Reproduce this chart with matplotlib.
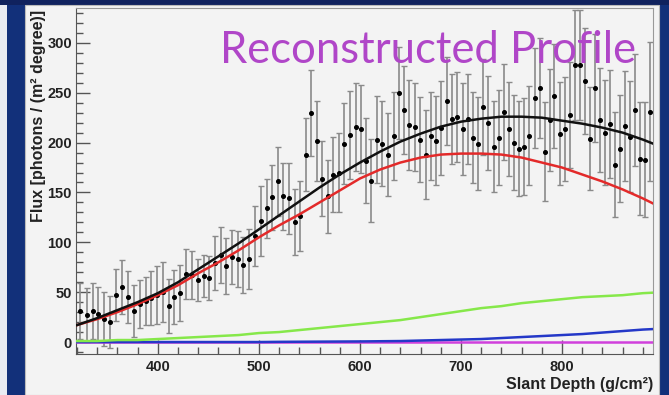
import matplotlib.pyplot as plt
from matplotlib.patches import Rectangle
from matplotlib.ticker import MultipleLocator
import numpy as np

# measured profile: slant depth bins, flux and uncertainty
depth = [323.4, 329.6, 335.6, 341.2, 346.8, 352.7, 358.7, 364.6, 370.8, 376.5,
         382.2, 387.8, 393.4, 399.0, 404.7, 410.6, 416.4, 422.3, 428.2, 434.0,
         439.9, 445.6, 451.0, 456.8, 462.4, 467.9, 473.6, 479.3, 484.7, 490.5,
         496.1, 501.8, 507.7, 512.7, 518.6, 524.2, 529.8, 535.5, 540.7, 546.4,
         551.9, 557.3, 562.8, 568.5, 573.7, 579.4, 584.6, 590.3, 595.9, 601.5,
         605.8, 611.4, 616.7, 622.3, 627.9, 633.2, 638.8, 643.8, 649.0, 654.0,
         659.6, 664.9, 670.2, 675.5, 680.4, 686.1, 691.1, 696.0, 701.6, 706.9,
         711.5, 716.8, 722.1, 727.0, 732.3, 737.4, 742.6, 747.8, 752.8, 757.8,
         762.7, 767.7, 772.9, 777.9, 782.8, 787.8, 792.4, 797.7, 802.6, 807.6,
         812.6, 817.5, 822.5, 827.4, 832.4, 837.3, 842.3, 847.2, 852.2, 857.5,
         862.1, 867.1, 872.0, 877.0, 881.9, 886.9]
flux = [31, 27, 31, 28, 23, 20, 47, 55, 45, 31,
        38, 41, 44, 47, 50, 36, 45, 49, 68, 67,
        62, 66, 64, 79, 87, 76, 85, 83, 77, 83,
        106, 121, 134, 145, 161, 146, 144, 120, 126, 188,
        230, 202, 164, 146, 168, 170, 199, 208, 216, 214,
        182, 162, 203, 199, 188, 207, 250, 233, 218, 216,
        203, 188, 207, 202, 215, 242, 224, 226, 214, 224,
        205, 199, 236, 220, 196, 205, 231, 214, 200, 194,
        196, 207, 245, 255, 191, 223, 247, 209, 214, 228,
        278, 278, 262, 204, 255, 223, 210, 219, 178, 194,
        217, 206, 233, 184, 183, 231]
flux_err = [28, 27, 28, 27, 27, 26, 26, 27, 26, 26,
            24, 24, 27, 29, 30, 27, 27, 28, 25, 24,
            21, 21, 22, 27, 28, 28, 27, 28, 28, 30,
            30, 35, 30, 33, 35, 34, 36, 33, 35, 37,
            43, 40, 38, 37, 38, 40, 41, 44, 44, 44,
            43, 42, 44, 43, 42, 44, 46, 44, 45, 44,
            43, 45, 44, 45, 47, 44, 45, 45, 46, 45,
            46, 47, 48, 47, 46, 48, 48, 47, 48, 48,
            49, 50, 50, 50, 50, 51, 52, 52, 52, 53,
            55, 55, 53, 52, 54, 52, 53, 54, 53, 54,
            55, 56, 56, 57, 58, 70]

# fitted components, sampled along depth
fit_depth = [320, 340, 360, 380, 400, 420, 440, 460, 480, 500,
             520, 540, 560, 580, 600, 620, 640, 660, 680, 700,
             720, 740, 760, 780, 800, 820, 840, 860, 880, 890]
total_fit = [17, 24, 32, 40, 49, 60, 73, 86, 99, 113,
             127, 141, 155, 168, 180, 191, 201, 209, 216, 221,
             224, 226, 226, 225, 222, 219, 215, 210, 203, 199]
fluor = [17, 23, 30, 38, 47, 57, 69, 80, 92, 105,
         117, 128, 140, 152, 164, 173, 180, 185, 188, 189,
         189, 188, 185, 180, 175, 168, 161, 153, 144, 139]
direct_cher = [1, 1, 2, 2, 3, 4, 5, 6, 7, 9,
               10, 12, 14, 16, 18, 20, 22, 25, 28, 31,
               34, 36, 39, 41, 43, 45, 46, 47, 49, 49.5]
scat_cher = [0, 0, 0, 0, 0, 0, 0, 0, 0, 0,
             0.2, 0.3, 0.4, 0.5, 0.6, 0.8, 1, 1.5, 2, 2.5,
             3, 4, 5, 6, 7, 8, 9.5, 11, 12.5, 13]
mie_depth = [320, 890]
mie = [0, 0]

fig = plt.figure(figsize=(6.69, 3.95), dpi=100, facecolor='#12307a')
# slide panel behind the plot
fig.patches.append(Rectangle((0, 0), 7/669, 1, transform=fig.transFigure,
                             facecolor='#e9ecf3', edgecolor='none', zorder=-2))
fig.patches.append(Rectangle((0, 1-5/395), 1, 5/395, transform=fig.transFigure,
                             facecolor='#10225e', edgecolor='none', zorder=-2))
fig.patches.append(Rectangle((25/669, 0), (659-25)/669, 1-5/395, transform=fig.transFigure,
                             facecolor='#f3f3f3', edgecolor='#bbbbbb', lw=0.8, zorder=-1))

ax = fig.add_axes([76/669, 41/395, 577/669, 346/395])
ax.set_zorder(1)
ax.set_facecolor('#f3f3f3')

ax.errorbar(depth, flux, yerr=flux_err, fmt='none', ecolor='#8a8a8a',
            elinewidth=1.2, capsize=2.2, capthick=1.0, zorder=2)
ax.plot(depth, flux, 'o', color='black', ms=2.6, zorder=3)

ax.plot(mie_depth, mie, color='#d040dc', lw=1.8, zorder=4)
ax.plot(fit_depth, scat_cher, color='#2438c8', lw=1.8, zorder=5)
ax.plot(fit_depth, direct_cher, color='#86e84a', lw=1.8, zorder=6)
ax.plot(fit_depth, fluor, color='#e32a2a', lw=1.8, zorder=7)
ax.plot(fit_depth, total_fit, color='#111111', lw=1.8, zorder=8)

ax.set_xlim(319, 890)
ax.set_ylim(-12, 335)
ax.xaxis.set_major_locator(MultipleLocator(100))
ax.xaxis.set_minor_locator(MultipleLocator(20))
ax.yaxis.set_major_locator(MultipleLocator(50))
ax.yaxis.set_minor_locator(MultipleLocator(10))
ax.tick_params(which='both', direction='in', color='#555555', width=1.0,
               top=False, right=False)
ax.tick_params(which='major', length=10)
ax.tick_params(which='minor', length=5)
ax.tick_params(axis='x', pad=4)
ax.tick_params(axis='y', pad=3)
for lab in ax.get_xticklabels() + ax.get_yticklabels():
    lab.set_fontfamily('Liberation Sans')
    lab.set_fontweight('bold')
    lab.set_fontsize(10.5)
    lab.set_color('#222222')
for side in ['left', 'bottom']:
    ax.spines[side].set_color('#555555')
for side in ['top', 'right']:
    ax.spines[side].set_color('#999999')

fig.text(653/669, 6/395, 'Slant Depth (g/cm²)', ha='right', va='baseline',
         family='Liberation Sans', fontweight='bold', fontsize=11.5, color='#222222')
fig.text(39/669, 1-10/395, 'Flux [photons / (m² degree)]', rotation=90,
         ha='center', va='top', family='Liberation Sans', fontweight='bold',
         fontsize=11.5, color='#222222')

fig.text(636/669, 1-62.7/395, 'Reconstructed Profile', ha='right', va='baseline',
         family='Lato', fontsize=31.4, color='#b046c8', zorder=10)

fig.savefig('out.png', dpi=100, facecolor=fig.get_facecolor())
